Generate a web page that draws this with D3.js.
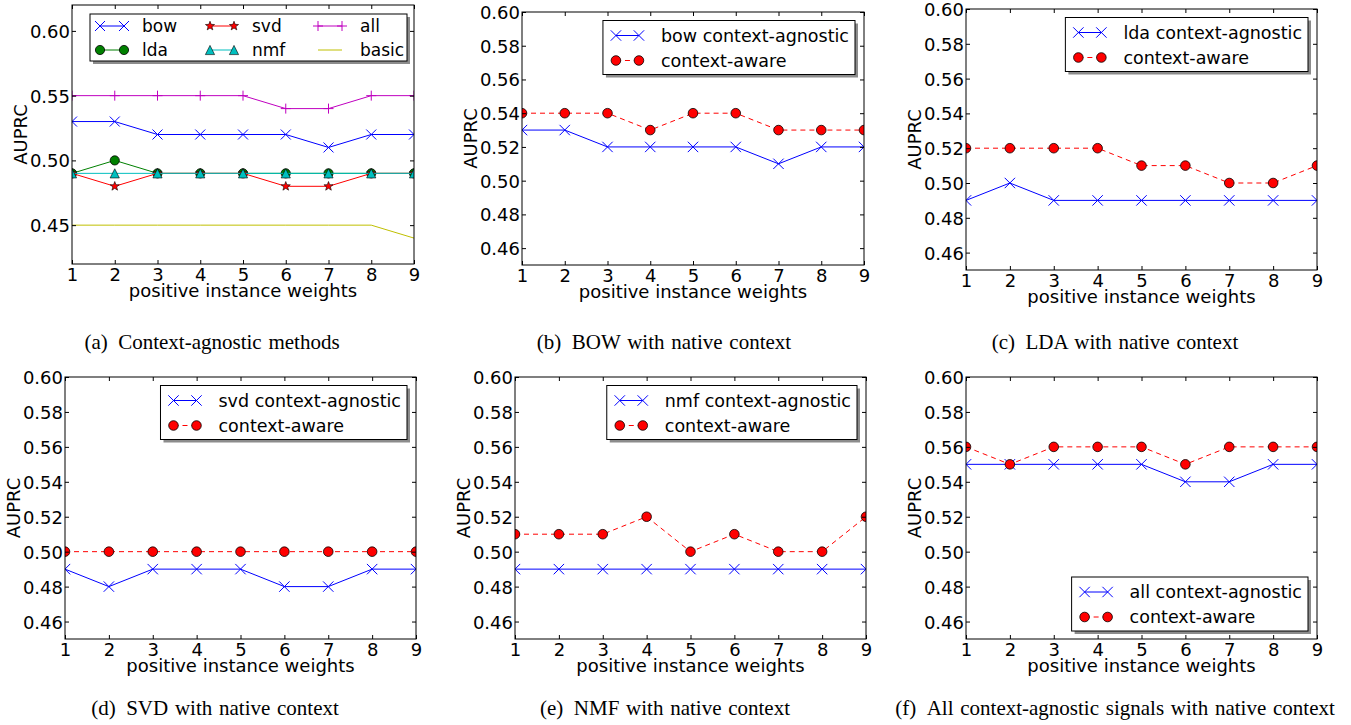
<!DOCTYPE html>
<html>
<head>
<meta charset="utf-8">
<script src="https://cdn.jsdelivr.net/npm/d3@7"></script>
<style>
  body { margin: 0; background: #fff; }
  text { font-family: "DejaVu Sans", sans-serif; fill: #000; }
  .cap { font-family: "Liberation Serif", "Times New Roman", serif; word-spacing: 1.5px; }
</style>
</head>
<body>
<svg id="fig" width="1351" height="725"></svg>
<script>
// x values
var weights = [1, 2, 3, 4, 5, 6, 7, 8, 9];

// context-agnostic
var bow   = [0.53, 0.53, 0.52, 0.52, 0.52, 0.52, 0.51, 0.52, 0.52];
var lda   = [0.49, 0.50, 0.49, 0.49, 0.49, 0.49, 0.49, 0.49, 0.49];
var svd   = [0.49, 0.48, 0.49, 0.49, 0.49, 0.48, 0.48, 0.49, 0.49];
var nmf   = [0.49, 0.49, 0.49, 0.49, 0.49, 0.49, 0.49, 0.49, 0.49];
var all   = [0.55, 0.55, 0.55, 0.55, 0.55, 0.54, 0.54, 0.55, 0.55];
var basic = [0.45, 0.45, 0.45, 0.45, 0.45, 0.45, 0.45, 0.45, 0.44];

// context-aware
var bowAware = [0.54, 0.54, 0.54, 0.53, 0.54, 0.54, 0.53, 0.53, 0.53];
var ldaAware = [0.52, 0.52, 0.52, 0.52, 0.51, 0.51, 0.50, 0.50, 0.51];
var svdAware = [0.50, 0.50, 0.50, 0.50, 0.50, 0.50, 0.50, 0.50, 0.50];
var nmfAware = [0.51, 0.51, 0.51, 0.52, 0.50, 0.51, 0.50, 0.50, 0.52];
var allAware = [0.56, 0.55, 0.56, 0.56, 0.56, 0.55, 0.56, 0.56, 0.56];

var ticksA = [0.45, 0.50, 0.55, 0.60];
var ticksB = [0.46, 0.48, 0.50, 0.52, 0.54, 0.56, 0.58, 0.60];

var captions = [
  "(a)\u2002Context-agnostic methods",
  "(b)\u2002BOW with native context",
  "(c)\u2002LDA with native context",
  "(d)\u2002SVD with native context",
  "(e)\u2002NMF with native context",
  "(f)\u2002All context-agnostic signals with native context"
];

var svg = d3.select("#fig");

function markerPath(type, s) {
  if (type === "x") return "M" + (-s) + "," + (-s) + "L" + s + "," + s + "M" + (-s) + "," + s + "L" + s + "," + (-s);
  if (type === "+") return "M" + (-s) + ",0L" + s + ",0M0," + (-s) + "L0," + s;
  if (type === "^") return "M0," + (-s) + "L" + (-s) + "," + s + "L" + s + "," + s + "Z";
  if (type === "*") {
    var p = [];
    for (var i = 0; i < 10; i++) {
      var r = i % 2 ? s * 0.42 : s;
      var a = -Math.PI / 2 + i * Math.PI / 5;
      p.push([r * Math.cos(a), r * Math.sin(a)]);
    }
    return "M" + p.map(function(d) { return d[0].toFixed(2) + "," + d[1].toFixed(2); }).join("L") + "Z";
  }
  return null;
}

function drawMarker(g, ser, x, y) {
  if (!ser.marker) return;
  if (ser.marker === "o") {
    g.append("circle").attr("cx", x).attr("cy", y).attr("r", ser.size)
      .attr("fill", ser.color).attr("stroke", "#000").attr("stroke-width", 0.8);
  } else if (ser.marker === "x" || ser.marker === "+") {
    g.append("path").attr("transform", "translate(" + x + "," + y + ")")
      .attr("d", markerPath(ser.marker, ser.size))
      .attr("fill", "none").attr("stroke", ser.color).attr("stroke-width", 1);
  } else {
    g.append("path").attr("transform", "translate(" + x + "," + y + ")")
      .attr("d", markerPath(ser.marker, ser.size))
      .attr("fill", ser.color).attr("stroke", "#000").attr("stroke-width", 0.6);
  }
}

function agnostic(values) {
  return { values: values, color: "#0000ff", marker: "x", size: 5.2 };
}
function aware(values) {
  return { values: values, color: "#ff0000", marker: "o", size: 4.8, dash: "5,4" };
}

var panels = [
  { box: [72, 5, 414, 264], domain: [0.42, 0.62], ticks: ticksA, fmt: ".2f",
    series: [
      { name: "bow", values: bow, color: "#0000ff", marker: "x", size: 5 },
      { name: "lda", values: lda, color: "#008000", marker: "o", size: 4.6 },
      { name: "svd", values: svd, color: "#ff0000", marker: "*", size: 4.8 },
      { name: "nmf", values: nmf, color: "#00bfbf", marker: "^", size: 4.6 },
      { name: "all", values: all, color: "#bf00bf", marker: "+", size: 5 },
      { name: "basic", values: basic, color: "#bfbf00" }
    ],
    legend: "grid", capX: 212, capY: 349 },
  { box: [522, 12, 864, 265], domain: [0.45, 0.60], ticks: ticksB, fmt: ".2f",
    series: [Object.assign(agnostic(bow), { name: "bow context-agnostic" }),
             Object.assign(aware(bowAware), { name: "context-aware" })],
    legend: "top", capX: 664, capY: 349 },
  { box: [966, 9, 1317, 270], domain: [0.45, 0.60], ticks: ticksB, fmt: ".2f",
    series: [Object.assign(agnostic(lda), { name: "lda context-agnostic" }),
             Object.assign(aware(ldaAware), { name: "context-aware" })],
    legend: "top", capX: 1115, capY: 349 },
  { box: [65, 377, 416, 639], domain: [0.45, 0.60], ticks: ticksB, fmt: ".2f",
    series: [Object.assign(agnostic(svd), { name: "svd context-agnostic" }),
             Object.assign(aware(svdAware), { name: "context-aware" })],
    legend: "top", capX: 215, capY: 715 },
  { box: [515, 377, 866, 639], domain: [0.45, 0.60], ticks: ticksB, fmt: ".2f",
    series: [Object.assign(agnostic(nmf), { name: "nmf context-agnostic" }),
             Object.assign(aware(nmfAware), { name: "context-aware" })],
    legend: "top", capX: 665, capY: 715 },
  { box: [966, 377, 1317, 639], domain: [0.45, 0.60], ticks: ticksB, fmt: ".2f",
    series: [Object.assign(agnostic(all), { name: "all context-agnostic" }),
             Object.assign(aware(allAware), { name: "context-aware" })],
    legend: "bottom", capX: 1115, capY: 715 }
];

panels.forEach(function(p, i) {
  var l = p.box[0], t = p.box[1], r = p.box[2], b = p.box[3];
  var w = r - l, h = b - t;
  var g = svg.append("g").attr("transform", "translate(" + l + "," + t + ")");

  var x = d3.scaleLinear().domain([1, 9]).range([0, w]);
  var y = d3.scaleLinear().domain(p.domain).range([h, 0]);

  var clipId = "clip" + i;
  g.append("clipPath").attr("id", clipId).append("rect").attr("width", w).attr("height", h);

  // data
  var plot = g.append("g").attr("clip-path", "url(#" + clipId + ")");
  var line = d3.line().x(function(d, k) { return x(weights[k]); }).y(function(d) { return y(d); });
  p.series.forEach(function(ser) {
    plot.append("path").datum(ser.values).attr("d", line)
      .attr("fill", "none").attr("stroke", ser.color).attr("stroke-width", 1)
      .attr("stroke-dasharray", ser.dash || null);
    ser.values.forEach(function(v, k) { drawMarker(plot, ser, x(weights[k]), y(v)); });
  });

  // axes, ticks inside on all four sides
  var fmt = d3.format(p.fmt);
  var ax = [
    { a: d3.axisBottom(x).tickValues(weights).tickFormat(d3.format("d")), tr: [0, h], side: "b" },
    { a: d3.axisTop(x).tickValues(weights).tickFormat(""), tr: [0, 0] },
    { a: d3.axisLeft(y).tickValues(p.ticks).tickFormat(fmt).tickPadding(2), tr: [0, 0], side: "l" },
    { a: d3.axisRight(y).tickValues(p.ticks).tickFormat(""), tr: [w, 0] }
  ];
  ax.forEach(function(o) {
    var ag = g.append("g").attr("transform", "translate(" + o.tr[0] + "," + o.tr[1] + ")")
      .call(o.a.tickSizeInner(-4).tickSizeOuter(0));
    ag.select(".domain").remove();
    ag.selectAll("line").attr("stroke", "#000").attr("stroke-width", 1);
    ag.attr("font-family", null).attr("font-size", null);
    ag.selectAll("text").attr("font-size", "18px").attr("fill", "#000");
    if (o.side === "b") ag.selectAll("text").attr("y", 17).attr("dy", null);
    if (o.side === "l") ag.selectAll("text").attr("dy", "0.36em");
  });

  g.append("rect").attr("width", w).attr("height", h)
    .attr("fill", "none").attr("stroke", "#000").attr("stroke-width", 1);

  // axis titles
  g.append("text").attr("x", w / 2).attr("y", h + 33).attr("text-anchor", "middle")
    .attr("font-size", "18px").text("positive instance weights");
  g.append("text").attr("transform", "translate(-45.5," + (h / 2) + ") rotate(-90)")
    .attr("text-anchor", "middle").attr("font-size", "18px").text("AUPRC");

  // legend
  var lg = g.append("g");
  var shadow = lg.append("rect").attr("fill", "#8c8c8c");
  var box = lg.append("rect").attr("fill", "#fff").attr("stroke", "#000").attr("stroke-width", 1);
  var items = lg.append("g");
  var bw, bh, bx, by;
  if (p.legend === "grid") {
    bw = 317; bh = 47; bx = w - 7 - bw; by = 9;
    var colX = [0, 110, 218];
    p.series.forEach(function(ser, k) {
      var cx = bx + colX[Math.floor(k / 2)], cy = by + (k % 2 ? 36 : 12);
      items.append("line").attr("x1", cx + 10).attr("x2", cx + 34).attr("y1", cy).attr("y2", cy)
        .attr("stroke", ser.color).attr("stroke-width", 1);
      drawMarker(items, ser, cx + 10, cy);
      drawMarker(items, ser, cx + 34, cy);
      items.append("text").attr("x", cx + 52).attr("y", cy).attr("dy", "0.36em")
        .attr("font-size", "17px").text(ser.name);
    });
  } else {
    var maxLen = 0;
    p.series.forEach(function(ser, k) {
      var cy = k ? 40 : 15;
      items.append("line").attr("x1", 13).attr("x2", 36).attr("y1", cy).attr("y2", cy)
        .attr("stroke", ser.color).attr("stroke-width", 1).attr("stroke-dasharray", ser.dash || null);
      drawMarker(items, ser, 13, cy);
      drawMarker(items, ser, 36, cy);
      var tx = items.append("text").attr("x", 58).attr("y", cy).attr("dy", "0.36em")
        .attr("font-size", "17.5px").text(ser.name);
      maxLen = Math.max(maxLen, tx.node().getComputedTextLength());
    });
    bw = 58 + maxLen + 6; bh = 54;
    bx = w - 9 - bw;
    by = p.legend === "top" ? 8.5 : h - 8 - bh;
    items.attr("transform", "translate(" + bx + "," + by + ")");
  }
  shadow.attr("x", bx + 3).attr("y", by + 3).attr("width", bw).attr("height", bh);
  box.attr("x", bx).attr("y", by).attr("width", bw).attr("height", bh);

  // caption
  svg.append("text").attr("class", "cap").attr("x", p.capX).attr("y", p.capY)
    .attr("text-anchor", "middle").attr("font-size", "21px").text(captions[i]);
});
</script>
</body>
</html>
